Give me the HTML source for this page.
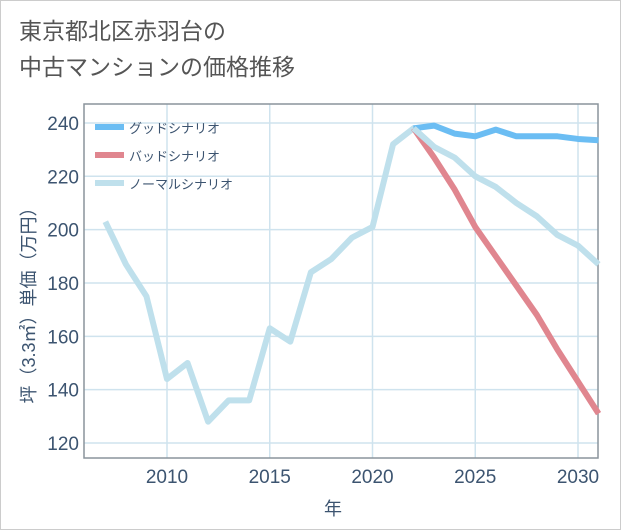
<!DOCTYPE html>
<html><head><meta charset="utf-8"><style>
body{margin:0;background:#fff}
#wrap{position:relative;width:619px;height:528px;border:1px solid #ccc;background:#fff;font-family:"Liberation Sans","Noto Sans CJK JP",sans-serif}
h1{position:absolute;left:18px;top:12px;margin:0;font-weight:normal;font-size:23px;line-height:36px;color:#555}
</style></head><body>
<div id="wrap">
<h1>東京都北区赤羽台の<br>中古マンションの価格推移</h1>
<svg id="c" width="621" height="530" style="position:absolute;left:0;top:0"></svg>
</div>
<script>
const years=[2007,2008,2009,2010,2011,2012,2013,2014,2015,2016,2017,2018,2019,2020,2021,2022,2023,2024,2025,2026,2027,2028,2029,2030,2031];
const normal=[203,187,175,144,150,128,136,136,163,158,184,189,197,201,232,238,231,227,220,216,210,205,198,194,187];
const futureYears=[2022,2023,2024,2025,2026,2027,2028,2029,2030,2031];
const good=[238,239,236,235,237.5,235,235,235,234,233.5];
const bad=[238,227,215,201,190,179,168,155,143,131];
const xTicks=[2010,2015,2020,2025,2030];
const yTicks=[120,140,160,180,200,220,240];
const L=83,R=597,T=103,B=457;
const x=v=>166+(v-2010)*20.55;
const y=v=>442-(v-120)*2.667;
const s=document.getElementById('c');const NS='http://www.w3.org/2000/svg';
function mk(t,a,p){const e=document.createElementNS(NS,t);for(const k in a)e.setAttribute(k,a[k]);(p||s).appendChild(e);return e;}
yTicks.forEach(v=>{const l=mk('line',{x1:L,x2:R,y1:y(v),y2:y(v),stroke:'#cfe3ee','stroke-width':1.5});


const t=mk('text',{x:L-5,y:y(v)+7,'text-anchor':'end','font-size':19,fill:'#3c5470'});t.textContent=v;

});
xTicks.forEach(v=>{const l=mk('line',{x1:x(v),x2:x(v),y1:T,y2:B,stroke:'#cfe3ee','stroke-width':1.5});


const t=mk('text',{x:x(v),y:B+25,'text-anchor':'middle','font-size':19,fill:'#3c5470'});t.textContent=v;

});
const fr=mk('rect',{x:L,y:T,width:R-L,height:B-T,fill:'none',stroke:'#8a949c','stroke-width':1.5});


function line(xs,vs,c,n){const p=mk('polyline',{points:xs.map((yr,i)=>x(yr)+','+y(vs[i])).join(' '),fill:'none',stroke:c,'stroke-width':6,'stroke-linejoin':'round'});

}
line(years,normal,'#bfe0ec','normal-scenario-line');
line(futureYears,bad,'#e0868f','bad-scenario-line');
line(futureYears,good,'#6bbdf3','good-scenario-line');
line(futureYears.slice(0,2),normal.slice(15,17),'#bfe0ec','normal-scenario-line-overlap');
const leg=[['グッドシナリオ','#6bbdf3'],['バッドシナリオ','#e0868f'],['ノーマルシナリオ','#bfe0ec']];
leg.forEach((d,i)=>{const g=mk('g',{});


mk('line',{x1:94,x2:123,y1:126+i*28,y2:126+i*28,stroke:d[1],'stroke-width':6},g);
const t=mk('text',{x:128,y:132+i*28,'font-size':13,fill:'#3c5470'},g);t.textContent=d[0];});
const yt=mk('text',{transform:'translate(34,300) rotate(-90)','text-anchor':'middle','font-size':18,fill:'#3c5470'});yt.textContent='坪（3.3㎡）単価（万円）';


const xt=mk('text',{x:332,y:514,'text-anchor':'middle','font-size':18,fill:'#3c5470'});xt.textContent='年';


</script>
</body></html>
